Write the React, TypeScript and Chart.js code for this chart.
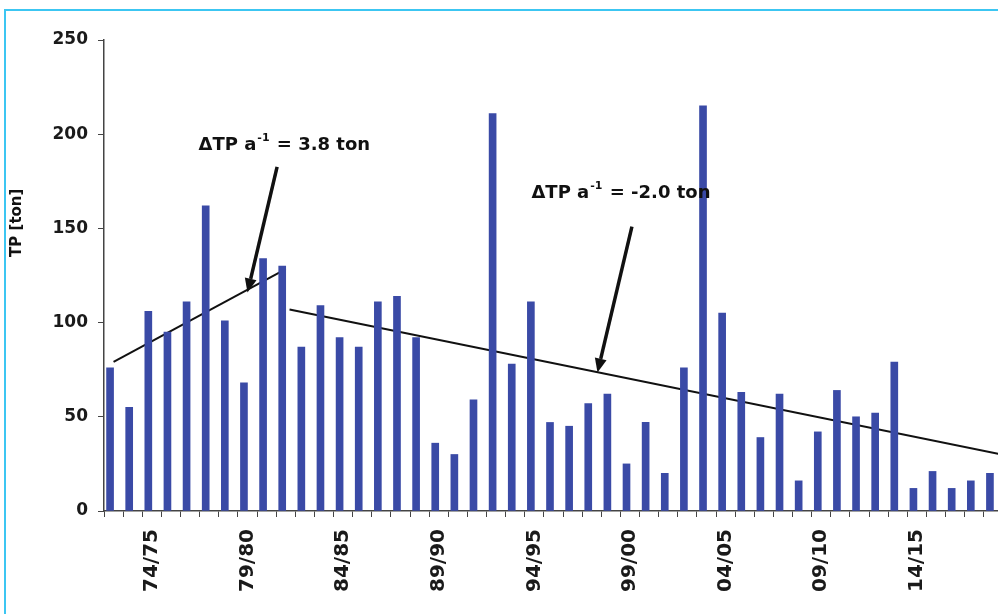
import React, { useEffect, useRef } from "react";
import { Chart, registerables } from "chart.js";

Chart.register(...registerables);

// ---- data ----
const categories = [
  "72/73", "73/74", "74/75", "75/76", "76/77", "77/78", "78/79", "79/80", "80/81", "81/82",
  "82/83", "83/84", "84/85", "85/86", "86/87", "87/88", "88/89", "89/90", "90/91", "91/92",
  "92/93", "93/94", "94/95", "95/96", "96/97", "97/98", "98/99", "99/00", "00/01", "01/02",
  "02/03", "03/04", "04/05", "05/06", "06/07", "07/08", "08/09", "09/10", "10/11", "11/12",
  "12/13", "13/14", "14/15", "15/16", "16/17", "17/18", "18/19",
];
const shownLabels = ["74/75", "79/80", "84/85", "89/90", "94/95", "99/00", "04/05", "09/10", "14/15"];
const tpValues = [
  76, 55, 106, 95, 111, 162, 101, 68, 134, 130,
  87, 109, 92, 87, 111, 114, 92, 36, 30, 59,
  211, 78, 111, 47, 45, 57, 62, 25, 47, 20,
  76, 215, 105, 63, 39, 62, 16, 42, 64, 50,
  52, 79, 12, 21, 12, 16, 20,
];
const yTicks = [0, 50, 100, 150, 200, 250];
// trend lines (x in category index units)
const trend1X = [0, 9];
const trend1Y = [79.2, 128.4];
const trend2X = [9.2, 46.5];
const trend2Y = [107, 29.9];
// annotations
const noteTexts = [
  { pre: "ΔTP a", sup: "-1", post: " = 3.8 ton" },
  { pre: "ΔTP a", sup: "-1", post: " = -2.0 ton" },
];
const noteX = [8.9, 26.5];
const noteY = [194, 168.8];
const arrowTailX = [8.55, 27.1];
const arrowTailY = [182.7, 150.9];
const arrowHeadX = [7.0, 25.3];
const arrowHeadY = [116, 73.5];
const yTitle = "TP [ton]";
const yTitleAt = 153;

const FONT = "'DejaVu Sans', sans-serif";

const annotate = {
  id: "annotate",
  afterDatasetsDraw(chart: any) {
    const { ctx, scales } = chart;
    const sx = scales.x2;
    const sy = scales.y;
    ctx.save();
    // arrows
    for (let i = 0; i < arrowTailX.length; i++) {
      const x1 = sx.getPixelForValue(arrowTailX[i]);
      const y1 = sy.getPixelForValue(arrowTailY[i]);
      const x2 = sx.getPixelForValue(arrowHeadX[i]);
      const y2 = sy.getPixelForValue(arrowHeadY[i]);
      const ang = Math.atan2(y2 - y1, x2 - x1);
      const headLen = 14;
      const headW = 6;
      const bx = x2 - headLen * Math.cos(ang);
      const by = y2 - headLen * Math.sin(ang);
      ctx.strokeStyle = "#111";
      ctx.lineWidth = 3.5;
      ctx.lineCap = "butt";
      ctx.beginPath();
      ctx.moveTo(x1, y1);
      ctx.lineTo(bx, by);
      ctx.stroke();
      ctx.fillStyle = "#111";
      ctx.beginPath();
      ctx.moveTo(x2, y2);
      ctx.lineTo(bx + headW * Math.sin(ang), by - headW * Math.cos(ang));
      ctx.lineTo(bx - headW * Math.sin(ang), by + headW * Math.cos(ang));
      ctx.closePath();
      ctx.fill();
    }
    // texts
    const mainFont = `bold 18px ${FONT}`;
    const supFont = `bold 11px ${FONT}`;
    ctx.textBaseline = "middle";
    ctx.textAlign = "left";
    ctx.fillStyle = "#111";
    for (let i = 0; i < noteTexts.length; i++) {
      const t = noteTexts[i];
      ctx.font = mainFont;
      const w1 = ctx.measureText(t.pre).width;
      const w3 = ctx.measureText(t.post).width;
      ctx.font = supFont;
      const w2 = ctx.measureText(t.sup).width + 1;
      const total = w1 + w2 + w3;
      const cx = sx.getPixelForValue(noteX[i]);
      const cy = sy.getPixelForValue(noteY[i]);
      let x = cx - total / 2;
      ctx.font = mainFont;
      ctx.fillText(t.pre, x, cy);
      x += w1 + 1;
      ctx.font = supFont;
      ctx.fillText(t.sup, x, cy - 7);
      x += w2;
      ctx.font = mainFont;
      ctx.fillText(t.post, x, cy);
    }
    // y title
    ctx.font = `bold 15px ${FONT}`;
    ctx.textAlign = "center";
    ctx.translate(17, sy.getPixelForValue(yTitleAt));
    ctx.rotate(-Math.PI / 2);
    ctx.fillText(yTitle, 0, 0);
    ctx.restore();
  },
};

export default function App() {
  const ref = useRef<HTMLCanvasElement | null>(null);

  useEffect(() => {
    document.body.style.margin = "0";
    const canvas = ref.current;
    if (!canvas) return;
    const chart = new Chart(canvas, {
      type: "bar",
      data: {
        labels: categories,
        datasets: [
          {
            type: "bar",
            data: tpValues,
            backgroundColor: "#3a4aa6",
            barThickness: 7,
            xAxisID: "x",
            yAxisID: "y",
          } as any,
          {
            type: "line",
            data: trend1X.map((x, i) => ({ x, y: trend1Y[i] })),
            borderColor: "#111",
            borderWidth: 2,
            pointRadius: 0,
            xAxisID: "x2",
            yAxisID: "y",
          } as any,
          {
            type: "line",
            data: trend2X.map((x, i) => ({ x, y: trend2Y[i] })),
            borderColor: "#111",
            borderWidth: 2,
            pointRadius: 0,
            xAxisID: "x2",
            yAxisID: "y",
          } as any,
        ],
      },
      options: {
        responsive: false,
        animation: false,
        devicePixelRatio: 1,
        layout: { padding: { top: 40, left: 0, right: 0, bottom: 0 } },
        plugins: {
          legend: { display: false },
          tooltip: { enabled: false },
        },
        scales: {
          x: {
            type: "category",
            offset: true,
            grid: {
              display: true,
              drawOnChartArea: false,
              drawTicks: true,
              tickLength: 6,
              color: "#444",
              offset: true,
            },
            border: { display: true, color: "#444", width: 1.5 },
            ticks: {
              autoSkip: false,
              maxRotation: 90,
              minRotation: 90,
              padding: 12,
              color: "#1a1a1a",
              font: { family: FONT, weight: "bold", size: 20 },
              callback: (_v: any, i: number) =>
                shownLabels.includes(categories[i]) ? categories[i] : "",
            },
            afterFit: (s: any) => {
              s.height = 103;
              s.paddingLeft = 0;
              s.paddingRight = 0;
            },
          },
          x2: {
            type: "linear",
            display: false,
            offset: false,
            grid: { offset: false },
            min: -0.5,
            max: categories.length - 0.5,
          },
          y: {
            type: "linear",
            min: 0,
            max: 250,
            afterBuildTicks: (s: any) => {
              s.ticks = yTicks.map((v) => ({ value: v }));
            },
            grid: {
              display: true,
              drawOnChartArea: false,
              drawTicks: true,
              tickLength: 6,
              color: "#444",
            },
            border: { display: true, color: "#444", width: 1.5 },
            ticks: {
              padding: 10,
              color: "#1a1a1a",
              font: { family: FONT, weight: "bold", size: 17 },
            },
            afterFit: (s: any) => {
              s.width = 104;
            },
          },
        },
      } as any,
      plugins: [annotate],
    });
    return () => chart.destroy();
  }, []);

  return (
    <div
      style={{
        position: "fixed",
        left: 0,
        top: 0,
        width: 998,
        height: 614,
        overflow: "hidden",
        background: "#fff",
      }}
    >
      <div
        style={{
          position: "absolute",
          left: 4,
          top: 9,
          right: -10,
          bottom: -10,
          borderLeft: "2px solid #3cc6f2",
          borderTop: "2px solid #3cc6f2",
          pointerEvents: "none",
        }}
      />
      <canvas
        ref={ref}
        width={1003}
        height={614}
        style={{ position: "absolute", left: 0, top: 0, width: 1003, height: 614 }}
      />
    </div>
  );
}
